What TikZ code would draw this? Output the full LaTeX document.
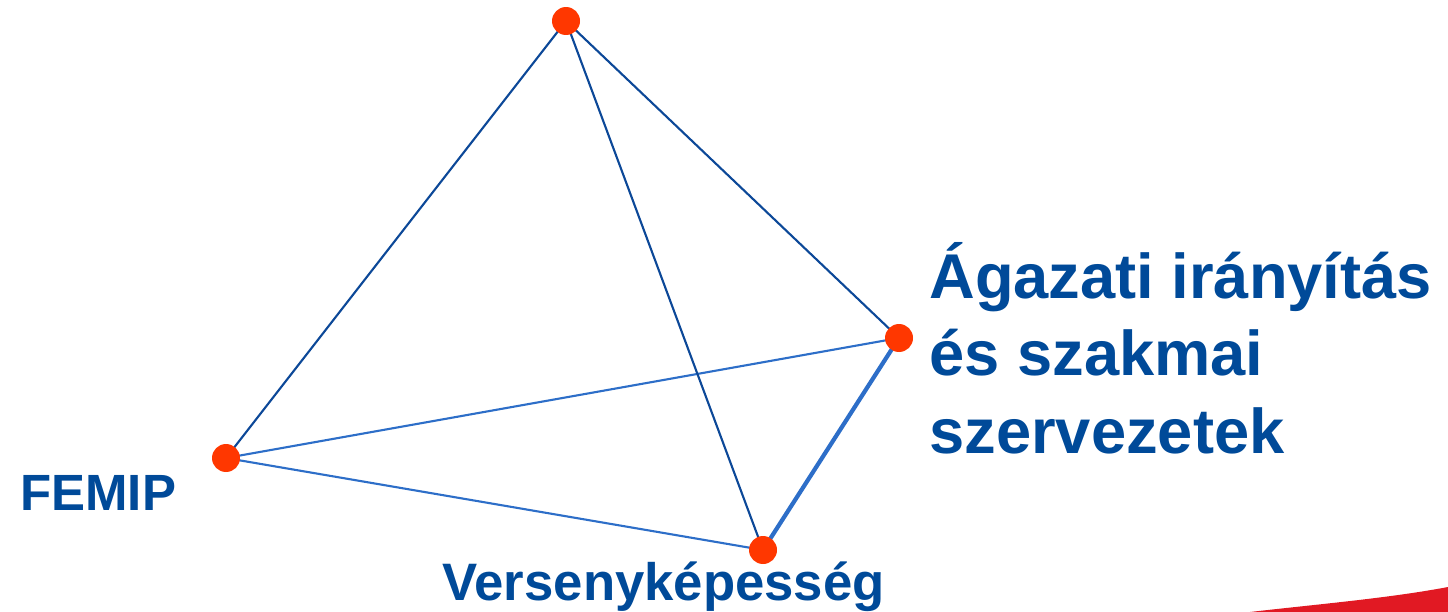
\documentclass[tikz,border=0pt]{standalone}
\usepackage{fontspec}
\setmainfont{Liberation Sans}
\usetikzlibrary{positioning}
\definecolor{femipblue}{RGB}{0,74,153}
\definecolor{edgeblue}{RGB}{12,72,152}
\definecolor{backblue}{RGB}{45,110,200}
\definecolor{dotred}{RGB}{255,55,0}
\definecolor{swooshred}{RGB}{225,25,35}

\begin{document}
\begin{tikzpicture}[x=0.02cm,y=-0.02cm,
    vertex/.style={circle,fill=dotred,inner sep=0pt,minimum size=0.56cm},
    label/.style={text=femipblue,font=\bfseries,inner sep=0pt},
    front/.style={draw=edgeblue,line width=1.2pt},
    back/.style={draw=backblue,line width=1.2pt}]
    \useasboundingbox (0,0) rectangle (1448,612);
    % red swoosh in the corner
    \fill[swooshred] (1250,612) .. controls (1320,604) and (1390,598) .. (1448,587) -- (1448,612) -- cycle;
    % vertices
    \coordinate (v_t) at (566,21);
    \coordinate (v_f) at (226,458);
    \coordinate (v_a) at (899,338);
    \coordinate (v_v) at (763,550);
    % edges
    \path[back] (v_f) edge (v_a)
                      edge (v_v);
    \path[back,line width=2.4pt] (v_v) edge (v_a);
    \path[front] (v_t) edge (v_f)
                       edge (v_a)
                       edge (v_v);
    \foreach \v in {v_t,v_f,v_a,v_v}
        \node[vertex] at (\v) {};
    % labels
    \node[label,font=\fontsize{29}{34}\bfseries,anchor=base west] (femip) at (20,510) {FEMIP};
    \node[label,font=\fontsize{30}{36}\bfseries,anchor=base west] (verseny) at (442,600) {Versenyképesség};
    \node[label,font=\fontsize{36}{44}\bfseries,anchor=north west,align=left] (agazat) at (929,242)
        {Ágazati irányítás\\és szakmai\\szervezetek};
\end{tikzpicture}
\end{document}
